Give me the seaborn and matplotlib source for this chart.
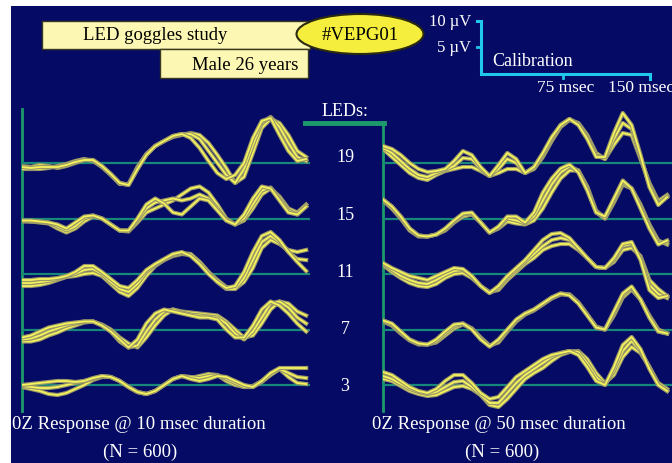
import numpy as np
import pandas as pd
import seaborn as sns
import matplotlib.pyplot as plt
import matplotlib.patheffects as pe
from matplotlib.patches import Rectangle, Ellipse

# sample times (ms) of the traced waveforms
t_ms = np.arange(0, 257, 8)
leds = ["19", "15", "11", "7", "3"]

# amplitude readings, 5.2 units = 1 uV (three overlaid traces per LED count)
# 10 msec duration
L19_a = [-4, -5, -4, -4, -4, -2, 1, 3, 3, -3, -11, -20, -22, -6, 8, 17, 22, 27, 29, 25, 15, 2, -10, -16, -12, 0, 25, 42, 45, 28, 12, 2, 4]
L19_b = [-3, -4, -2, -3, -5, -3, 0, 3, 3, -3, -11, -20, -22, -6, 8, 17, 22, 27, 29, 29, 24, 12, 0, -12, -20, -6, 18, 40, 46, 36, 20, 6, 2]
L19_c = [-6, -6, -6, -5, -3, -1, 2, 4, 2, -4, -12, -21, -21, -4, 9, 17, 22, 26, 28, 30, 28, 20, 8, -5, -20, -14, 10, 35, 44, 40, 28, 12, 6]
L15_a = [-2, -2, -3, -4, -6, -10, -4, 2, 3, 0, -6, -12, -12, 0, 14, 20, 15, 6, 4, 12, 20, 18, 8, -2, -6, 4, 20, 32, 30, 18, 6, 4, 12]
L15_b = [-2, -3, -3, -4, -8, -12, -8, 0, 3, 0, -6, -12, -12, -2, 10, 16, 18, 20, 18, 20, 24, 20, 10, -2, -6, 0, 14, 28, 31, 20, 8, 4, 12]
L15_c = [-3, -3, -4, -5, -10, -14, -10, -3, 2, 0, -6, -12, -13, -4, 6, 10, 14, 18, 24, 30, 32, 26, 14, 0, -6, -2, 10, 24, 30, 22, 10, 6, 14]
L11_a = [-6, -6, -5, -5, -4, -2, 2, 8, 8, 2, -5, -12, -14, -6, 4, 10, 15, 20, 22, 18, 10, 0, -8, -14, -12, 2, 22, 38, 42, 34, 22, 12, 3]
L11_b = [-9, -9, -8, -7, -5, -2, 0, 4, 5, 0, -8, -15, -18, -10, 2, 9, 14, 19, 21, 20, 12, 2, -8, -15, -15, -4, 14, 32, 38, 32, 22, 15, 14]
L11_c = [-12, -12, -11, -9, -6, -3, -2, 0, 1, -2, -10, -18, -22, -14, -2, 8, 14, 18, 20, 19, 12, 2, -6, -13, -15, -8, 6, 26, 34, 30, 24, 22, 24]
L7_a = [-8, -6, -2, 2, 4, 6, 7, 8, 8, 4, -2, -10, -18, -10, 6, 16, 20, 18, 16, 14, 12, 12, 10, 0, -8, -8, 4, 20, 28, 24, 16, 6, -2]
L7_b = [-10, -9, -6, -2, 1, 4, 6, 8, 8, 4, -2, -12, -18, -16, -2, 10, 18, 20, 17, 15, 14, 13, 12, 6, -4, -10, -2, 12, 26, 28, 22, 12, 6]
L7_c = [-12, -12, -10, -6, -3, 1, 4, 7, 8, 5, 0, -8, -14, -18, -8, 4, 14, 20, 18, 17, 16, 15, 14, 8, 0, -8, -6, 6, 20, 28, 26, 18, 14]
L3_a = [0, 1, 2, 3, 4, 4, 3, 4, 7, 9, 8, 4, -2, -7, -9, -6, 0, 6, 9, 6, 4, 6, 9, 8, 4, 0, -2, 4, 12, 17, 17, 17, 17]
L3_b = [-1, -2, -3, -3, -2, 0, 2, 4, 6, 9, 8, 4, -2, -7, -9, -6, 0, 6, 9, 8, 7, 9, 10, 6, 2, -2, -2, 3, 10, 16, 12, 8, 7]
L3_c = [-2, -4, -6, -9, -10, -8, -4, 0, 5, 8, 8, 4, -2, -7, -9, -6, 0, 6, 9, 7, 9, 11, 10, 4, 0, -2, -1, 4, 11, 16, 8, 2, 1]

# 50 msec duration
R19_a = [17, 14, 8, 0, -6, -9, -8, -6, 2, 12, 8, -4, -13, -2, 10, 4, -10, -4, 10, 26, 38, 44, 38, 24, 6, 6, 30, 50, 38, 8, -24, -42, -34]
R19_b = [15, 10, 2, -6, -12, -14, -10, -7, -3, 5, 4, -6, -13, -6, 4, 0, -10, -4, 8, 24, 38, 44, 39, 26, 8, 4, 24, 40, 34, 6, -22, -40, -34]
R19_c = [14, 6, -2, -10, -15, -17, -12, -8, -6, -4, -4, -8, -13, -10, -6, -6, -10, -6, 6, 22, 36, 43, 40, 28, 10, 4, 18, 30, 28, 4, -20, -38, -32]
R15_a = [19, 12, 2, -10, -17, -18, -16, -10, -2, 5, 6, -4, -14, -8, 2, 2, -4, 6, 26, 40, 50, 54, 46, 28, 6, 2, 20, 38, 30, 10, -10, -26, -22]
R15_b = [19, 12, 2, -10, -17, -18, -16, -11, -3, 4, 5, -4, -14, -9, 0, -2, -5, 2, 18, 34, 46, 52, 48, 30, 6, 0, 18, 36, 30, 12, -8, -24, -24]
R15_c = [18, 10, 0, -12, -18, -18, -16, -12, -4, 2, 4, -4, -14, -10, -3, -5, -6, -2, 10, 26, 40, 48, 48, 32, 8, 0, 16, 34, 30, 14, -6, -22, -26]
R11_a = [11, 6, 2, -2, -4, -6, -2, 2, 6, 5, -2, -12, -19, -12, -2, 6, 14, 24, 34, 40, 41, 36, 26, 16, 7, 6, 16, 30, 32, 14, -16, -24, -22]
R11_b = [10, 4, -2, -6, -9, -10, -6, -1, 3, 4, -2, -12, -19, -14, -4, 4, 12, 20, 28, 34, 36, 34, 26, 16, 7, 6, 14, 28, 30, 16, -11, -20, -24]
R11_c = [9, 2, -4, -9, -12, -13, -10, -4, 0, 1, -4, -12, -18, -16, -6, 2, 10, 16, 24, 28, 30, 30, 24, 16, 7, 6, 12, 24, 26, 18, -6, -15, -22]
R7_a = [9, 6, -2, -10, -14, -15, -10, -2, 5, 6, 0, -10, -17, -10, 0, 10, 16, 20, 26, 32, 36, 34, 26, 14, 2, 0, 18, 36, 43, 30, 12, -2, -4]
R7_b = [9, 5, -3, -10, -14, -15, -12, -4, 3, 6, 1, -9, -17, -11, -1, 9, 16, 20, 26, 32, 36, 35, 27, 15, 2, 0, 16, 34, 42, 30, 12, -2, -4]
R7_c = [8, 4, -4, -11, -15, -15, -13, -6, 1, 5, 1, -8, -16, -13, -2, 8, 15, 19, 25, 31, 35, 35, 27, 15, 3, 0, 14, 32, 40, 30, 14, 0, -4]
R3_a = [13, 10, 4, -2, -6, -8, -4, 4, 10, 10, 2, -8, -14, -12, -2, 8, 14, 20, 26, 30, 32, 34, 30, 18, 4, 0, 18, 40, 48, 36, 16, 0, -6]
R3_b = [9, 6, 1, -4, -7, -9, -7, -2, 3, 4, -2, -10, -18, -18, -8, 2, 10, 16, 22, 28, 32, 34, 33, 22, 8, 0, 14, 34, 44, 34, 18, 0, -6]
R3_c = [6, 4, -1, -6, -9, -11, -10, -6, -2, -1, -4, -10, -20, -22, -14, -4, 6, 12, 17, 24, 30, 33, 34, 26, 12, 2, 10, 28, 38, 32, 18, 2, -4]

left_rows = [[L19_c, L19_b, L19_a], [L15_c, L15_b, L15_a], [L11_c, L11_b, L11_a],
             [L7_c, L7_b, L7_a], [L3_c, L3_b, L3_a]]
right_rows = [[R19_c, R19_b, R19_a], [R15_c, R15_b, R15_a], [R11_c, R11_b, R11_a],
              [R7_c, R7_b, R7_a], [R3_c, R3_b, R3_a]]

plt.rcParams['font.family'] = ['Liberation Serif', 'DejaVu Serif']

NAVY = '#050a64'
TEAL = '#17877a'
GREEN = '#1d9a6c'
CYAN = '#22c8ea'
YEL = '#f5f35c'
PX_UV = 5.2      # pixels per uV
PX_MS = 1.11     # pixels per ms
ROW_GAP = 55.5   # pixels between baselines

W, H = 672, 464
fig = plt.figure(figsize=(W / 100, H / 100), dpi=100)
fig.patch.set_facecolor('white')

bg = fig.add_axes([0, 0, 1, 1])
bg.set_xlim(0, W)
bg.set_ylim(H, 0)
bg.axis('off')
bg.add_patch(Rectangle((11, 7), W - 11, H - 7, facecolor=NAVY, edgecolor='none'))

# header boxes
bg.add_patch(Rectangle((42, 22), 268, 28, facecolor='#fdf7b4', edgecolor='#3a3a20', lw=1))
bg.add_patch(Rectangle((160, 50), 148, 29, facecolor='#fdf7b4', edgecolor='#3a3a20', lw=1))
bg.add_patch(Ellipse((360, 35), 127, 40, facecolor='#f6ee3c', edgecolor='#2a2a10', lw=1.5))
bg.text(155, 36, 'LED goggles study', fontsize=13.5, ha='center', va='center', color='black')
bg.text(245, 66, 'Male 26 years', fontsize=13.5, ha='center', va='center', color='black')
bg.text(360, 35, '#VEPG01', fontsize=13.5, ha='center', va='center', color='black')

# calibration bar
bg.plot([477, 481, 481, 650, 650], [22, 22, 75, 75, 80], color=CYAN, lw=2.2, solid_joinstyle='miter')
bg.plot([477, 481], [48, 48], color=CYAN, lw=2)
bg.plot([563, 563], [75, 79], color=CYAN, lw=2)
bg.text(471, 22, '10 \u00b5V', fontsize=12, ha='right', va='center', color='white')
bg.text(471, 48, '5 \u00b5V', fontsize=12, ha='right', va='center', color='white')
bg.text(492, 61, 'Calibration', fontsize=13, ha='left', va='center', color='white')
bg.text(537, 88, '75 msec', fontsize=12.5, ha='left', va='center', color='white')
bg.text(608, 88, '150 msec', fontsize=12.5, ha='left', va='center', color='white')

# frame lines and LED labels
bg.plot([22, 22], [110, 412], color=GREEN, lw=2)
bg.plot([383, 383], [123, 412], color=GREEN, lw=2)
bg.plot([305, 384], [124, 124], color=GREEN, lw=3.5)
bg.text(345, 112, 'LEDs:', fontsize=13, ha='center', va='center', color='white')
for i, lab in enumerate(leds):
    bg.text(345, 158 + i * 57.2, lab, fontsize=13, ha='center', va='center', color='white')

bg.text(12, 425, '0Z Response @ 10 msec duration', fontsize=13.5, ha='left', va='center', color='white')
bg.text(140, 452, '(N = 600)', fontsize=13.5, ha='center', va='center', color='white')
bg.text(372, 425, '0Z Response @ 50 msec duration', fontsize=13.5, ha='left', va='center', color='white')
bg.text(502, 452, '(N = 600)', fontsize=13.5, ha='center', va='center', color='white')

effects = [pe.Stroke(linewidth=3.0, foreground='#9a9868'), pe.Normal()]
top_px, bot_px = 100, 420


def panel(x0, width, rows):
    ax = fig.add_axes([x0 / W, (H - bot_px) / H, width / W, (bot_px - top_px) / H])
    ax.set_facecolor('none')
    ax.set_xlim(0, width / PX_MS)
    ax.set_ylim((164 - bot_px) / PX_UV, (164 - top_px) / PX_UV)
    ax.axis('off')
    for i, traces in enumerate(rows):
        off = -i * ROW_GAP / PX_UV
        ax.axhline(off, color=TEAL, lw=1.6, zorder=1)
        for tr in traces:
            df = pd.DataFrame({'t': t_ms, 'uv': np.array(tr) / PX_UV + off})
            sns.lineplot(data=df, x='t', y='uv', ax=ax, color=YEL, lw=1.3,
                         path_effects=effects, sort=False, errorbar=None,
                         legend=False, zorder=3)
    return ax


panel(22, 288, left_rows)
panel(383, 289, right_rows)

fig.savefig('out.png', dpi=100, facecolor=fig.get_facecolor())
